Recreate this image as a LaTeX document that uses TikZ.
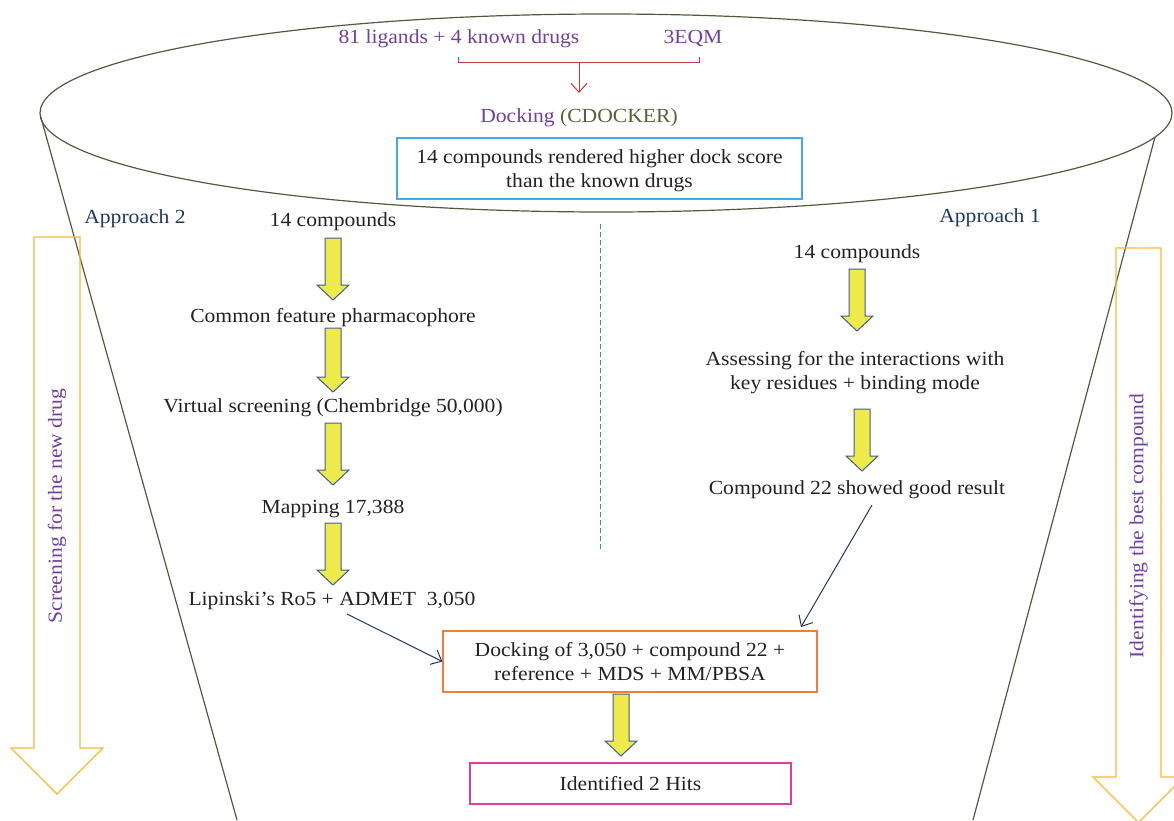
\documentclass[tikz,border=0pt]{standalone}
\usepackage{fontspec}
\setmainfont{Liberation Serif}[FakeStretch=1.08]
\usetikzlibrary{arrows.meta,calc}
\definecolor{purpletxt}{HTML}{7040A0}
\definecolor{olivetxt}{HTML}{5E5E3E}
\definecolor{navytxt}{HTML}{1F3864}
\definecolor{funnel}{HTML}{55593A}
\definecolor{redline}{HTML}{C8383C}
\definecolor{bluebox}{HTML}{45A8E0}
\definecolor{orangebox}{HTML}{EE7F3A}
\definecolor{pinkbox}{HTML}{D83FA8}
\definecolor{yfill}{HTML}{EEEA4A}
\definecolor{yedge}{HTML}{3F5C98}
\definecolor{gold}{HTML}{F8B932}
\definecolor{dashgreen}{HTML}{2FA84A}
\definecolor{bodytxt}{HTML}{222222}
\tikzset{
  basetxt/.style={inner sep=0pt, font=\fontsize{20}{24}\selectfont, align=center, text=bodytxt},
  txt/.style={basetxt, yshift=-2.5pt},
  boxed/.style={basetxt, draw, line width=1.3pt, text depth=0pt},
  yarr/.style={fill=yfill, draw=yedge, line width=1pt, line join=miter},
  oarr/.style={draw=gold, line width=1.3pt, line join=miter},
  navyarrow/.style={draw=navytxt, line width=1pt, -{Straight Barb[length=9pt,width=16pt]}},
}
\newcommand\blockarrow[3]{\draw[yarr] (#1-8,#2) -- (#1+8,#2) -- (#1+8,#3-15) -- (#1+16,#3-15) -- (#1,#3) -- (#1-16,#3-15) -- (#1-8,#3-15) -- cycle;}
\begin{document}
\begin{tikzpicture}[x=1pt,y=-1pt]
\useasboundingbox (0,0) rectangle (1174,820);
% funnel
\draw[funnel, line width=1.2pt] (606,113) ellipse [x radius=566pt, y radius=99pt];
\draw[funnel, line width=1.2pt] (40.5,116) -- (237,820);
\draw[funnel, line width=1.2pt] (1155,137) -- (973,820);
% dashed divider
\draw[dashgreen, line width=1pt, dash pattern=on 5pt off 3pt] (600,224) -- (600,551);
% side outline arrows
\draw[oarr] (34,237) -- (80,237) -- (80,748) -- (103,748) -- (57,794) -- (11,748) -- (34,748) -- cycle;
\draw[oarr] (1116,248) -- (1161,248) -- (1161,777) -- (1184,777) -- (1138.5,822.5) -- (1093,777) -- (1116,777) -- cycle;
\node[basetxt, text=purpletxt, rotate=90] (scr) at (57,506) {Screening for the new drug};
\node[basetxt, text=purpletxt, rotate=90] (idb) at (1138.5,526) {Identifying the best compound};
% top
\node[txt, text=purpletxt] (lig) at (459,36) {81 ligands + 4 known drugs};
\node[txt, text=purpletxt] (eqm) at (693,36) {3EQM};
\node[txt] (dock) at (579,115) {\textcolor{purpletxt}{Docking} \textcolor{olivetxt}{(CDOCKER)}};
\coordinate (bl) at (458,57);
\coordinate (br) at (699,57);
\coordinate (bm) at (579,62);
\coordinate (dtip) at (579,93);
\draw[redline, line width=1pt] (bl) -- (bl |- bm) -- (br |- bm) -- (br);
\draw[redline, line width=1pt, -{Straight Barb[length=9pt,width=16pt]}] (bm) -- (dtip);
\node[boxed, draw=bluebox, minimum width=405pt, minimum height=61pt] (top) at (599.5,168.5) {14 compounds rendered higher dock score\\ than the known drugs};
% approach labels
\node[txt, text=navytxt] (ap2) at (135,216) {Approach 2};
\node[txt, text=navytxt] (ap1) at (990,215) {Approach 1};
% approach 2 column
\node[txt] (l1) at (333,219) {14 compounds};
\node[txt] (l2) at (333,315) {Common feature pharmacophore};
\node[txt] (l3) at (333,405) {Virtual screening (Chembridge 50,000)};
\node[txt] (l4) at (333,506) {Mapping 17,388};
\node[txt] (l5) at (332,598) {Lipinski’s Ro5 + ADMET\ \ 3,050};
\blockarrow{333}{238}{300}
\blockarrow{333}{328}{392}
\blockarrow{333}{423}{485}
\blockarrow{333}{523}{585}
% approach 1 column
\node[txt] (r1) at (857,251) {14 compounds};
\node[txt] (r2) at (855,370) {Assessing for the interactions with\\ key residues + binding mode};
\node[txt] (r3) at (857,487) {Compound 22 showed good result};
\blockarrow{857}{269}{331}
\blockarrow{862}{409}{471}
% bottom
\node[boxed, draw=orangebox, minimum width=374pt, minimum height=61pt] (ob) at (630,661.5) {Docking of 3,050 + compound 22 +\\ reference + MDS + MM/PBSA};
\node[boxed, draw=pinkbox, minimum width=321pt, minimum height=41pt] (pb) at (630.5,783.5) {Identified 2 Hits};
\blockarrow{621}{694}{756}
\coordinate (s1) at (347,614);
\coordinate (s2) at (872,505);
\coordinate (e2) at (801,627);
\draw[navyarrow] (s1) -- (ob.west);
\draw[navyarrow] (s2) -- (e2);
\end{tikzpicture}
\end{document}
